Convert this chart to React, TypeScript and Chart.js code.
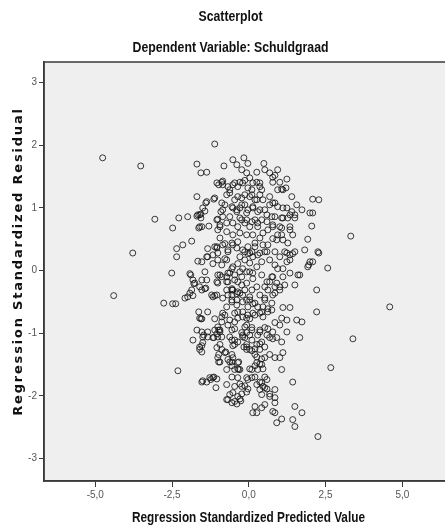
import React, { useEffect, useRef } from "react";
import { Chart, registerables } from "chart.js";

Chart.register(...registerables);

const TITLE = "Scatterplot";
const SUBTITLE = "Dependent Variable: Schuldgraad";
const X_TITLE = "Regression Standardized Predicted Value";
const Y_TITLE = "Regression Standardized Residual";
const X_TICKS = [-5, -2.5, 0, 2.5, 5];
const Y_TICKS = [-3, -2, -1, 0, 1, 2, 3];

// [predicted, residual] pairs
const outlierPoints = [
  [-4.76, 1.8], [-3.52, 1.67], [-3.06, 0.82], [-3.78, 0.28], [-4.4, -0.4], [-2.31, -1.6],
  [3.32, 0.55], [3.39, -1.09], [4.59, -0.58], [2.67, -1.55], [2.25, -2.65], [-1.11, 2.02],
];

const upperLeftPoints = [
  [-1.69, 1.7], [-1.56, 1.56], [-1.37, 1.57], [-0.81, 1.67], [-0.52, 1.77], [-0.39, 1.69], [-0.16, 1.8],
  [-0.98, 1.37], [-0.85, 1.43], [-1.69, 1.18], [-1.4, 1.08], [-1.14, 1.14], [-2.28, 0.84], [-1.99, 0.86],
  [-2.48, 0.68], [-1.69, 0.87], [-1.56, 0.9], [-1.43, 0.95], [-1.56, 0.84], [-1.63, 0.68], [-1.53, 0.7],
  [-1.3, 0.71], [-1.01, 0.82], [-1.86, 0.47], [-2.15, 0.41], [-2.35, 0.35], [-2.35, 0.22], [-1.34, 0.35],
  [-1.04, 0.36], [-1.66, 0.15], [-1.37, 0.22], [-2.51, -0.04], [-1.89, -0.07], [-1.43, -0.02], [-1.01, -0.07],
  [-1.17, 0.11],
];

const lowerLeftPoints = [
  [-2.77, -0.52], [-2.48, -0.53], [-2.38, -0.53], [-2.08, -0.44], [-1.92, -0.36], [-1.82, -0.4], [-1.79, -0.21],
  [-1.53, -0.31], [-1.4, -0.28], [-1.63, -0.66], [-1.56, -0.77], [-1.34, -0.66], [-1.11, -0.77], [-1.69, -0.95],
  [-1.82, -1.11], [-1.47, -1.03], [-1.34, -1.06], [-1.14, -1.07], [-0.98, -0.95], [-1.6, -1.26], [-1.53, -1.2],
  [-1.04, -1.23], [-0.98, -1.34], [-0.98, -1.46], [-1.5, -1.76], [-1.37, -1.78], [-1.24, -1.74], [-1.14, -1.7],
  [-1.04, -1.73], [-1.07, -1.87], [-0.72, -2.06], [-0.55, -2.11], [-0.39, -2.13], [-0.26, -2.08], [-0.62, -1.98],
  [-0.46, -1.85], [-0.23, -1.85], [-0.03, -1.74], [-0.75, -1.3], [-0.68, -1.42], [-0.55, -1.46], [-0.52, -1.39],
  [-0.33, -1.46], [-0.33, -1.58], [-0.55, -1.7], [-0.72, -1.58], [-0.07, -1.26], [-0.16, -1.22], [-0.2, -1.03],
  [-0.46, -1.11], [-0.62, -1.06], [-0.55, -0.95], [-0.88, -1.06], [-0.94, -0.95], [-0.78, -0.71], [-0.46, -0.82],
  [-0.36, -0.76], [-0.2, -0.66], [-0.07, -0.76], [-0.39, -0.55], [-0.55, -0.47], [-0.85, -0.44], [-1.04, -0.39],
  [-1.11, -0.4], [-0.72, -0.31], [-0.55, -0.31], [-0.36, -0.34], [-0.2, -0.39], [-0.07, -0.47], [-0.68, -0.18],
  [-0.46, -0.15], [-0.23, -0.1], [-0.07, -0.2], [-1.01, -0.2], [-0.88, -0.1], [-0.62, -0.04], [-1.37, -0.15],
  [-0.07, -0.87],
];

const lowerCorePoints = [
  [-1.76, -0.2], [-1.53, -0.15], [-1.17, -0.42], [-0.94, -0.07], [-0.72, -0.1], [-0.52, -0.31], [-0.55, -0.39],
  [-0.39, -0.47], [-0.29, -0.36], [-0.36, -0.18], [0.1, -0.31], [0.03, -0.47], [0.2, -0.52], [0.13, -0.04],
  [0.42, -0.07], [0.52, -0.26], [0.62, -0.31], [0.52, -0.44], [0.75, -0.52], [0.75, -0.63], [0.85, -0.36],
  [0.91, -0.2], [1.01, -0.26], [0.68, -0.18], [0.78, -0.1], [1.11, -0.1], [1.34, -0.04], [1.66, -0.07],
  [1.5, -0.23], [2.21, -0.31], [2.21, -0.66], [1.11, -0.59], [1.34, -0.59], [1.07, -0.76], [1.24, -0.79],
  [1.56, -0.79], [1.73, -0.82], [1.66, -1.07], [1.24, -0.98], [1.01, -0.87], [0.85, -0.83], [0.78, -0.98],
  [0.91, -1.07], [1.07, -1.14], [0.68, -1.07], [0.59, -1.03], [0.52, -0.91], [0.36, -0.95], [0.29, -1.03],
  [0.42, -1.14], [0.26, -1.18], [0.36, -1.26], [0.2, -1.34], [0.03, -1.26], [-0.07, -1.18], [-0.13, -1.07],
  [0.03, -1.03], [0.1, -0.91], [-0.2, -0.74], [-0.03, -0.71], [0.13, -0.68], [0.36, -0.68], [0.46, -0.74],
  [0.62, -0.66], [0.46, -0.58], [0.29, -0.58], [0.68, -1.34], [0.85, -1.39], [1.01, -1.39], [1.11, -1.31],
  [1.07, -1.58], [0.52, -1.39], [0.42, -1.5], [0.26, -1.47], [0.1, -1.58], [0.29, -1.58], [0.1, -1.71],
  [0.2, -1.7], [0.26, -1.82], [0.42, -1.79], [0.52, -1.87], [0.36, -1.9], [0.42, -1.98], [0.59, -1.74],
  [0.85, -1.9], [0.68, -2.01], [0.85, -2.03], [0.85, -2.11], [0.78, -2.25], [0.85, -2.27], [0.52, -2.14],
  [0.42, -2.19], [0.2, -2.17], [0.13, -2.27], [0.26, -2.27], [0.91, -2.43], [1.07, -2.37], [1.43, -1.78],
  [1.5, -2.17], [1.73, -2.27], [1.5, -2.49], [1.43, -2.38], [-0.07, -1.94], [-0.36, -2.01], [-0.46, -2.09],
  [-0.68, -2.06], [-0.52, -1.95], [-0.36, -1.71], [-0.72, -1.82], [-0.07, -1.71], [-0.29, -1.58], [-0.46, -1.58],
  [-0.36, -1.47], [-0.62, -1.46], [-0.78, -1.31], [-0.55, -1.34], [-1.17, -1.71], [-1.27, -1.71], [-1.53, -1.78],
  [-1.6, -0.76], [-1.53, -0.98], [-1.5, -1.06], [-1.17, -1.07], [-1.11, -0.95], [-0.94, -0.98], [-1.01, -0.9],
  [-0.88, -0.74], [-0.85, -0.68], [-0.62, -0.79], [-0.46, -0.68], [-0.55, -1.11], [-0.46, -1.18], [-0.36, -1.14],
  [-0.23, -0.99], [-0.07, -0.99], [0.1, -1.11], [-0.94, -1.18], [-0.88, -1.26], [-1.6, -1.22], [-1.5, -1.15],
  [-1.53, -1.3], [-1.01, -1.39], [-0.94, -1.46],
];

const upperCorePoints = [
  [-0.03, 1.71], [-0.23, 1.61], [-0.07, 1.56], [0.03, 1.48], [0.26, 1.57], [0.49, 1.71], [0.52, 1.61],
  [0.68, 1.56], [0.85, 1.52], [0.94, 1.61], [0.78, 1.41], [1.01, 1.41], [1.24, 1.46], [0.94, 1.29],
  [1.11, 1.29], [1.21, 1.32], [1.4, 1.18], [1.56, 1.05], [1.73, 0.97], [1.99, 0.92], [2.08, 0.92],
  [2.08, 1.14], [2.28, 1.13], [2.05, 0.71], [1.92, 0.5], [2.28, 0.28], [1.92, 0.06], [1.99, 0.14],
  [2.08, 0.14], [2.57, 0.04], [1.6, -0.07], [1.5, 0.3], [1.82, 0.33], [1.34, 0.17], [1.24, 0.28],
  [1.27, 0.44], [1.43, 0.57], [1.5, 0.84], [1.34, 0.89], [1.24, 1.0], [1.11, 0.84], [1.01, 0.7],
  [1.34, 0.7], [1.07, 0.57], [0.91, 0.49], [0.85, 0.3], [1.01, 0.22], [0.68, 0.17], [0.59, 0.3],
  [0.46, 0.41], [0.46, 0.6], [0.62, 0.65], [0.78, 0.73], [0.75, 0.86], [0.52, 0.97], [0.68, 1.05],
  [0.85, 1.08], [0.46, 1.13], [0.36, 1.21], [0.2, 1.13], [0.03, 1.18], [0.1, 1.29], [0.36, 1.34],
  [0.26, 1.41], [-0.2, 1.4], [-0.36, 1.34], [-0.52, 1.37], [-0.62, 1.29], [-0.72, 1.21], [-0.78, 1.05],
  [-0.46, 1.13], [-0.23, 1.16], [-0.13, 1.05], [-0.29, 1.0], [-0.39, 0.94], [-0.07, 0.92], [0.13, 1.0],
  [0.29, 0.94], [0.2, 0.81], [0.42, 0.81], [0.29, 0.7], [0.03, 0.7], [-0.07, 0.81], [-0.23, 0.81],
  [-0.36, 0.7], [-0.52, 0.76], [-0.62, 0.86], [-0.85, 0.86], [-0.94, 0.7], [-0.72, 0.62], [-0.52, 0.57],
  [-0.29, 0.6], [-0.07, 0.57], [0.13, 0.57], [0.36, 0.52], [0.2, 0.44], [-0.03, 0.38], [-0.13, 0.3],
  [0.03, 0.28], [0.13, 0.22], [0.36, 0.28], [0.42, 0.14], [0.26, 0.06], [0.03, 0.12], [-0.13, 0.17],
  [-0.29, 0.22], [-0.39, 0.36], [-0.55, 0.44], [-0.68, 0.3], [-0.85, 0.41], [-0.94, 0.52], [-1.11, 0.38],
  [-1.17, 0.25], [-1.01, 0.17], [-0.72, 0.17], [-0.52, 0.06], [-0.68, -0.04], [-0.29, -0.02], [-0.07, -0.02],
  [-1.11, 1.16], [-1.37, 1.1], [-1.5, 1.0], [-1.6, 0.89], [-1.01, 0.65], [-0.88, 1.08], [-0.85, 0.97],
  [-0.52, 1.0], [-1.04, 1.4], [-0.85, 1.37],
];

const topBandPoints = [
  [0.78, 1.49], [1.07, 1.3], [-0.88, 1.41], [-0.68, 1.34], [-0.62, 1.24], [-0.46, 1.4], [-0.29, 1.41],
  [-0.13, 1.44], [-0.03, 1.32], [0.13, 1.4], [0.36, 1.4], [0.42, 1.29], [0.1, 1.21], [-0.13, 1.21],
  [-0.36, 1.18], [0.26, 1.13], [0.68, 1.18], [0.78, 1.08], [0.94, 1.02], [1.11, 1.0], [1.4, 0.94],
  [1.5, 0.89], [1.27, 0.84], [1.07, 0.84], [0.85, 0.86], [0.59, 0.89], [0.36, 0.97], [0.13, 1.02],
  [-0.03, 0.97], [-0.23, 1.05], [-0.39, 0.97], [-0.55, 1.02], [-0.91, 0.94], [-1.66, 0.89], [-1.6, 0.7],
  [-1.04, 0.81], [-0.94, 0.73], [-0.72, 0.76], [-0.29, 0.84], [-0.13, 0.76], [0.1, 0.78], [0.29, 0.76],
  [0.59, 0.78], [0.78, 0.7], [1.07, 0.68], [1.34, 0.65],
];

const middleBandPoints = [
  [-1.53, 0.14], [-1.34, 0.22], [-1.04, 0.38], [-1.01, 0.28], [-0.78, 0.43], [-0.68, 0.33], [-0.52, 0.41],
  [-0.36, 0.46], [-0.2, 0.33], [-0.03, 0.27], [0.1, 0.3], [0.2, 0.38], [0.29, 0.25], [0.52, 0.3],
  [0.62, 0.41], [0.78, 0.51], [0.94, 0.57], [1.11, 0.49], [1.17, 0.3], [1.34, 0.25], [1.43, 0.27],
  [0.85, 0.09], [0.94, 0.03], [1.11, 0.03], [1.24, 0.14], [1.95, 0.09], [2.25, 0.3], [0.59, -0.18],
  [0.75, -0.1], [0.85, -0.26], [1.01, -0.31], [1.17, -0.23], [0.26, -0.26], [0.36, -0.39], [0.52, -0.47],
  [0.78, -0.39], [0.03, -0.02], [0.13, -0.13], [-0.36, 0.11], [-0.2, 0.03], [-0.55, 0.03], [-0.46, -0.07],
  [-0.78, 0.19], [-0.88, 0.09], [-1.04, -0.18], [-0.72, -0.18], [-0.55, -0.29], [-0.39, -0.37], [-0.23, -0.23],
  [-0.13, -0.31], [0.03, -0.42], [-0.68, -0.39], [-0.55, -0.5], [-0.72, -0.58], [-0.2, -0.5], [-0.03, -0.58],
  [0.13, -0.53], [-0.36, -0.66], [0.03, -0.77], [0.2, -0.71], [0.42, -0.66], [0.62, -0.61], [-1.92, -0.05],
  [-1.82, -0.15], [-1.86, -0.31], [-1.99, -0.42], [-1.6, -0.26], [-1.43, -0.29], [-1.21, -0.39], [-1.53, -0.77],
  [-0.88, -0.82], [-1.34, -0.98], [-1.04, -1.01], [-0.68, -0.87], [-0.46, -0.93], [-0.13, -0.9], [0.1, -0.95],
  [0.36, -0.98], [0.62, -0.93],
];

const bottomBandPoints = [
  [-1.01, -1.06], [-0.55, -1.52], [-0.36, -1.57], [-0.52, -1.2], [-0.2, -1.06], [-0.07, -1.22], [0.1, -1.28],
  [0.2, -1.25], [0.26, -1.38], [0.42, -1.41], [0.03, -1.57], [0.2, -1.52], [0.36, -1.49], [0.46, -1.57],
  [0.52, -1.22], [0.36, -1.17], [0.78, -1.09], [-0.29, -1.81], [-0.13, -1.84], [-0.03, -1.89], [-0.29, -2.05],
  [-0.23, -1.97], [0.36, -1.78], [0.52, -1.7], [0.46, -1.85], [0.59, -1.89], [0.68, -1.97],
];

const allPoints = [
  ...outlierPoints,
  ...upperLeftPoints,
  ...lowerLeftPoints,
  ...lowerCorePoints,
  ...upperCorePoints,
  ...topBandPoints,
  ...middleBandPoints,
  ...bottomBandPoints,
];

const SANS = "'Liberation Sans', Arial, sans-serif";

// draws a horizontally condensed, centred text line (mimics a condensed face)
function drawCondensed(ctx: CanvasRenderingContext2D, text: string, cx: number, cy: number, font: string, width: number) {
  ctx.save();
  ctx.font = font;
  ctx.fillStyle = "#111";
  ctx.textAlign = "center";
  ctx.textBaseline = "middle";
  const measured = ctx.measureText(text).width || 1;
  ctx.translate(cx, cy);
  ctx.scale(width / measured, 1);
  ctx.fillText(text, 0, 0);
  ctx.restore();
}

export default function App() {
  const canvasRef = useRef<HTMLCanvasElement | null>(null);

  useEffect(() => {
    const canvas = canvasRef.current;
    if (!canvas) return;

    const framePlugin = {
      id: "plotFrame",
      beforeDraw(chart: any) {
        const { ctx, chartArea } = chart;
        const { left, top, right, bottom } = chartArea;
        ctx.save();
        ctx.fillStyle = "#efefef";
        ctx.fillRect(left, top, right - left, bottom - top);
        ctx.restore();
      },
      afterDraw(chart: any) {
        const { ctx, chartArea, width } = chart;
        const { left, top, right, bottom } = chartArea;
        ctx.save();
        ctx.strokeStyle = "#3a3a3a";
        ctx.lineWidth = 1.5;
        ctx.strokeRect(left, top, right - left, bottom - top);
        ctx.restore();

        // titles
        drawCondensed(ctx, TITLE, width / 2, 17, `bold 14.5px ${SANS}`, 64);
        drawCondensed(ctx, SUBTITLE, width / 2, 48, `bold 14.5px ${SANS}`, 196);
        drawCondensed(ctx, X_TITLE, (left + right) / 2, 518, `bold 15px ${SANS}`, 233);

        // y axis title
        ctx.save();
        ctx.translate(19, (top + bottom) / 2 - 10);
        ctx.rotate(-Math.PI / 2);
        ctx.font = "bold 13px 'DejaVu Sans', sans-serif";
        (ctx as any).letterSpacing = "1.8px";
        ctx.fillStyle = "#111";
        ctx.textAlign = "center";
        ctx.textBaseline = "middle";
        ctx.fillText(Y_TITLE, 0, 0);
        ctx.restore();
      },
    };

    const chart = new Chart(canvas, {
      type: "scatter",
      data: {
        datasets: [
          {
            data: allPoints.map(([x, y]) => ({ x, y })),
            pointStyle: "circle",
            pointRadius: 3,
            pointBorderWidth: 1,
            pointBackgroundColor: "rgba(0,0,0,0)",
            pointBorderColor: "rgba(25,25,25,0.85)",
            showLine: false,
          },
        ],
      },
      options: {
        animation: false,
        responsive: false,
        devicePixelRatio: 1,
        events: [],
        layout: { padding: { left: 0, right: 8, top: 62, bottom: 0 } },
        plugins: {
          legend: { display: false },
          tooltip: { enabled: false },
          title: { display: false, text: TITLE },
          subtitle: { display: false, text: SUBTITLE },
        },
        scales: {
          x: {
            type: "linear",
            position: "bottom",
            min: -6.67,
            max: 6.65,
            afterBuildTicks: (scale: any) => {
              scale.ticks = X_TICKS.map((value) => ({ value }));
            },
            afterFit: (scale: any) => {
              scale.height = 50;
            },
            grid: { drawOnChartArea: false, drawTicks: true, tickLength: 6, color: "#3a3a3a", lineWidth: 1 },
            border: { display: true, color: "#3a3a3a", width: 1.5 },
            ticks: {
              autoSkip: false,
              maxRotation: 0,
              padding: 2,
              color: "#555",
              font: { family: SANS, size: 10 },
              callback: (v: any) => Number(v).toFixed(1).replace(".", ","),
            },
            title: { display: false, text: X_TITLE },
          },
          y: {
            type: "linear",
            position: "left",
            min: -3.36,
            max: 3.33,
            afterBuildTicks: (scale: any) => {
              scale.ticks = Y_TICKS.map((value) => ({ value }));
            },
            afterFit: (scale: any) => {
              scale.width = 44;
            },
            grid: { drawOnChartArea: false, drawTicks: true, tickLength: 5, color: "#3a3a3a", lineWidth: 1 },
            border: { display: true, color: "#3a3a3a", width: 1.5 },
            ticks: {
              autoSkip: false,
              padding: 2,
              color: "#555",
              font: { family: SANS, size: 10 },
              callback: (v: any) => String(v),
            },
            title: { display: false, text: Y_TITLE },
          },
        },
      },
      plugins: [framePlugin],
    });

    return () => chart.destroy();
  }, []);

  return (
    <div
      style={{
        position: "fixed",
        left: 0,
        top: 0,
        width: 445,
        height: 531,
        overflow: "hidden",
        background: "#fff",
      }}
    >
      <canvas ref={canvasRef} width={461} height={531} style={{ display: "block", width: 461, height: 531 }} />
    </div>
  );
}
